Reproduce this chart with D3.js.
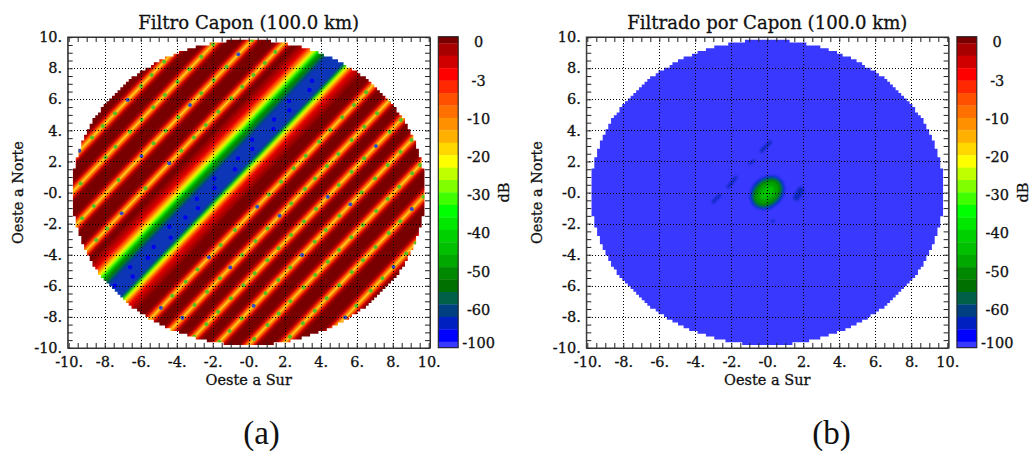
<!DOCTYPE html>
<html><head><meta charset="utf-8">
<script src="https://cdn.jsdelivr.net/npm/d3@7"></script>
<style>
html,body{margin:0;padding:0;background:#fff}
svg{display:block}
text{font-family:"DejaVu Serif",serif;fill:#111;stroke:#111;stroke-width:.3}
text.cap{font-family:"Liberation Serif",serif;stroke:none}
</style></head><body>
<svg id="c" width="1030" height="451"></svg>
<script>
// ---------- data ----------
const titles = ["Filtro Capon (100.0 km)", "Filtrado por Capon (100.0 km)"];
const captions = ["(a)", "(b)"];
const captionX = [261.5, 831.5];
const xName = "Oeste a Sur", yName = "Oeste a Norte", barName = "dB";
const xTicks = [-10,-8,-6,-4,-2,0,2,4,6,8,10];
const xTickLabels = ["-10.","-8.","-6.","-4.","-2.","-0.","2.","4.","6.","8.","10."];
const yTicks = [10,8,6,4,2,0,-2,-4,-6,-8,-10];
const yTickLabels = ["10.","8.","6.","4.","2.","-0.","-2.","-4.","-6.","-8.","-10."];
const minorTicks = d3.range(-10, 10.01, 0.5);
const barLabels = ["0","-3","-10","-20","-30","-40","-50","-60","-100"];
const barColors = ["#780000","#a80000","#d00000","#ff0000","#ff2800","#ff5000","#ff7000","#ff9000","#ffb000","#ffd800","#ffff00","#c0ff00","#80ff00","#40ff00","#00ff00","#00e800","#00d000","#00c000","#00a800","#008800","#007000","#006048","#004080","#0020c0","#0000ff","#3838ff"];
const diskRadius = 9.8;

// narrow stripes: x where each crosses y = 0
const stripeIntercepts = [-11.62,-9.82,-7.89,-5.96,1.22,2.94,4.61,6.27,8.06,9.93,11.97];
const stripeRun = 0.822; // dx per dy
// half widths (x units) of the colour layers of a narrow stripe
const stripeLevels = [[.50,"#980000"],[.42,"#b80000"],[.34,"#d80000"],[.27,"#ff0000"],[.21,"#ff3000"],[.16,"#ff6000"],[.12,"#ff9000"],[.08,"#ffb000"]];
const coreHalf = 0.05, coreColor = "#ffc828";
// notch positions (y) along each stripe
const notches0 = [2.69,3.55,4.28,5.10,5.96,6.86,7.57,8.42];
const notches1 = [0.59,2.27,2.95,3.92,4.71,5.49,6.28,7.13,7.93,8.74,9.54];
const notches2 = [-1.66,-0.87,0.80,2.35,3.17,3.98,4.84,5.63,6.39,7.24,8.10,8.90,9.82];
const notches3 = [-3.06,-2.31,-1.34,0.27,1.88,2.69,3.55,4.35,5.20,6.07,6.81,7.57,8.34,9.05];
const notches4 = [6.45,5.63,4.84,4.02,3.27,2.37,1.56,0.70,-0.12,-0.91,-2.41,-3.38,-4.17,-4.95,-5.74,-6.65,-7.42];
const notches5 = [5.96,5.10,4.24,3.38,2.48,1.71,0.91,0.23,-0.70,-1.49,-2.31,-3.12,-4.02,-4.82,-5.52,-6.39,-7.24,-8.06];
const notches6 = [4.67,3.91,2.99,2.20,1.34,0.48,-0.27,-1.06,-1.87,-2.74,-3.59,-4.35,-5.20,-5.96,-6.81,-7.68,-8.47,-9.29];
const notches7 = [3.38,2.63,1.77,0.91,0.01,-0.76,-1.49,-2.41,-3.17,-4.02,-4.82,-5.63,-6.49,-7.29,-8.10,-8.92,-9.61];
const notches8 = [1.77,1.24,0.37,-0.42,-1.19,-2.09,-2.87,-3.70,-4.46,-5.31,-6.10,-6.99,-7.78,-8.53,-9.43];
const notches9 = [-0.27,-1.06,-1.84,-2.61,-3.51,-4.35,-5.12,-5.96,-6.81,-7.61,-8.42,-9.29];
const notches10 = [-3.27,-3.92,-4.78,-5.52,-6.32,-7.29,-8.04];
const notchLists = [notches0,notches1,notches2,notches3,notches4,notches5,notches6,notches7,notches8,notches9,notches10];
const deepNotches = [[0,2.69],[0,5.96],[2,2.35],[2,5.63],[2,8.90],[3,1.88],[3,-1.34],[4,-0.91],[4,-4.17],[4,-7.42],[5,-1.49],[5,-4.82],[5,-8.06],[6,2.99],[6,-0.27],[7,-0.76],[7,-4.02],[7,-7.29],[9,-1.06],[10,-4.78],[10,-8.04]];

// main null band: x at y = 0 and layer edges (left, right, colour)
const bandIntercept = -2.30;
const bandLevels = [[-2.72,2.19,"#a00000"],[-2.44,1.91,"#c80000"],[-2.22,1.67,"#f00000"],[-2.04,1.48,"#ff4000"],[-1.89,1.35,"#ff9000"],[-1.74,1.24,"#ffd000"],[-1.65,1.19,"#ffff00"],[-1.56,1.09,"#80ff00"],[-1.43,1.02,"#00f000"],[-1.28,.95,"#00b000"],[-1.12,.88,"#008000"],[-.86,.82,"#006048"],[-.74,.78,"#004080"],[-.6,.68,"#0a34b8"]];
const bandSpeckY = [-6,-5.4,-4.8,-4.2,-3.5,-2.9,-2.2,-1.6,-1,-.4,.3,.9,1.5,2.2,2.8,3.4,4.1,4.7,5.3,5.9,6.6,7.2];
const bandSpeckX = [-.2,.3,-.35,.15,-.1,.35,-.3,.1,.3,-.25,.15,-.35,.3,-.1,.2,-.3,.3,-.15,.2,-.3,.25,-.1];

// right panel: central response and side-lobe spots
const lobeLayers = [[.98,.80,"#0828d8"],[.90,.70,"#004890"],[.82,.62,"#007810"],[.68,.48,"#00a000"],[.42,.26,"#00c000"]];
const lobeAngle = -42;
const spotX1 = [-.31,-.96,-2.17,-3,1.63,.3];
const spotY1 = [2.69,1.88,.37,-.59,-.31,-1.84];
const spotX2 = [.15,-.74,-1.74,-2.63,1.86,.32];
const spotY2 = [3.23,2.05,.98,-.16,.16,-1.82];
const spotW = [4,3,3.6,3.6,7,3.5];

// ---------- drawing ----------
const svg = d3.select("#c");
const defs = svg.append("defs");
function addBlur(id, sd){
  defs.append("filter").attr("id",id).attr("filterUnits","userSpaceOnUse").attr("x",0).attr("y",0).attr("width",1030).attr("height",451)
    .append("feGaussianBlur").attr("stdDeviation",sd);
}
addBlur("edge",0.5);
addBlur("soft",0.9);

function panel(ox, idx){
  const x = d3.scaleLinear().domain([-10,10]).range([ox+68.7, ox+428.7]);
  const y = d3.scaleLinear().domain([-10,10]).range([347.9, 37.2]);
  const L = ox+67.7, R = ox+430, T = 37, B = 348;
  const g = svg.append("g");

  // stair-stepped disk as one path
  const rows = d3.range(-diskRadius, diskRadius, 0.18);
  const stepPath = rows.map(d=>{
    const m = d+.09, h = Math.sqrt(Math.max(0,diskRadius*diskRadius-m*m));
    const q = Math.round(h/.155)*.155;
    return `M${x(-q)},${y(d+.18)-.2}H${x(q)}V${y(d)+.2}H${x(-q)}Z`;
  }).join("");
  defs.append("clipPath").attr("id","disk"+idx).append("path").attr("d",stepPath);

  const outer = g.append("g").attr("filter","url(#edge)");
  const clipped = outer.append("g").attr("clip-path",`url(#disk${idx})`);
  const img = clipped.append("g").attr("filter", "url(#soft)");
  const line = d3.line().x(d=>x(d[0])).y(d=>y(d[1]));
  const strip = (c,a,b) => line([[c+a-12*stripeRun,-12],[c+b-12*stripeRun,-12],[c+b+12*stripeRun,12],[c+a+12*stripeRun,12]])+"Z";

  if(idx===0){
    img.append("rect").attr("x",L-10).attr("y",T-10).attr("width",R-L+20).attr("height",B-T+20).attr("fill",barColors[0]);
    stripeLevels.forEach(([w,col])=>{
      img.append("g").selectAll("path").data(stripeIntercepts).join("path")
        .attr("d",c=>strip(c,-w,w)).attr("fill",col);
    });
    bandLevels.forEach(([a,b,col])=>{
      img.append("path").attr("d",strip(bandIntercept,a,b)).attr("fill",col);
    });
    // sharper marks on top
    const sharp = clipped.append("g");
    sharp.append("g").selectAll("path").data(stripeIntercepts).join("path")
      .attr("d",c=>strip(c,-coreHalf,coreHalf)).attr("fill",coreColor);
    notchLists.forEach((list,i)=>{
      sharp.append("g").selectAll("circle").data(list).join("circle")
        .attr("cx",v=>x(stripeIntercepts[i]+v*stripeRun)).attr("cy",v=>y(v)).attr("r",2).attr("fill","#58c020");
    });
    sharp.append("g").selectAll("circle").data(deepNotches).join("circle")
      .attr("cx",d=>x(stripeIntercepts[d[0]]+d[1]*stripeRun)).attr("cy",d=>y(d[1])).attr("r",1.9).attr("fill","#4040c8");
    sharp.append("g").selectAll("circle").data(bandSpeckY).join("circle")
      .attr("cx",(v,i)=>x(bandIntercept+v*stripeRun+bandSpeckX[i])).attr("cy",v=>y(v)).attr("r",2.2).attr("fill","#0000f0");
  } else {
    img.append("rect").attr("x",L-10).attr("y",T-10).attr("width",R-L+20).attr("height",B-T+20).attr("fill",barColors[25]);
    const rx = x(1)-x(0);
    img.append("g").selectAll("path").data(spotX1).join("path")
      .attr("d",(d,i)=>line([[spotX1[i],spotY1[i]],[spotX2[i],spotY2[i]]]))
      .attr("stroke","#0c2cc0").attr("stroke-linecap","round").attr("stroke-width",(d,i)=>spotW[i]).attr("fill","none");
    img.append("g").attr("transform",`translate(${x(0)},${y(0)}) rotate(${lobeAngle})`)
      .selectAll("ellipse").data(lobeLayers).join("ellipse")
      .attr("rx",d=>d[0]*rx*1.1).attr("ry",d=>d[1]*rx*1.1).attr("fill",d=>d[2]);
  }

  // grid
  const grid = g.append("g").attr("stroke","#000").attr("stroke-width",1).attr("stroke-dasharray","1 2").attr("shape-rendering","crispEdges");
  grid.selectAll(".v").data(xTicks.slice(1,-1)).join("line").attr("x1",d=>Math.round(x(d))+.5).attr("x2",d=>Math.round(x(d))+.5).attr("y1",T).attr("y2",B);
  grid.selectAll(".h").data(yTicks.slice(1,-1)).join("line").attr("y1",d=>Math.round(y(d))+.5).attr("y2",d=>Math.round(y(d))+.5).attr("x1",L).attr("x2",R);

  // axes
  const style = s => { s.select(".domain").attr("stroke","#333"); s.selectAll(".tick line").attr("stroke","#222"); };
  const fmtX = (d)=>xTickLabels[xTicks.indexOf(d)];
  const fmtY = (d)=>yTickLabels[yTicks.indexOf(d)];
  const place = (ax,tr)=>g.append("g").attr("transform",tr).call(ax).call(style);
  place(d3.axisBottom(x).tickValues(minorTicks).tickSize(-5).tickSizeOuter(0).tickFormat(""),`translate(0,${B})`);
  place(d3.axisTop(x).tickValues(minorTicks).tickSize(-5).tickSizeOuter(0).tickFormat(""),`translate(0,${T})`);
  place(d3.axisLeft(y).tickValues(minorTicks).tickSize(-5).tickSizeOuter(0).tickFormat(""),`translate(${L},0)`);
  place(d3.axisRight(y).tickValues(minorTicks).tickSize(-5).tickSizeOuter(0).tickFormat(""),`translate(${R},0)`);
  const lab = "14.5px";
  const fix = s => s.selectAll("text").attr("font-size",lab).attr("font-family",'"DejaVu Serif",serif').attr("fill","#111");
  const ax = place(d3.axisBottom(x).tickValues(xTicks).tickSize(0).tickPadding(9).tickFormat(fmtX),`translate(0,${B})`);
  ax.select(".domain").remove(); fix(ax);
  const ay = place(d3.axisLeft(y).tickValues(yTicks).tickSize(0).tickPadding(5.5).tickFormat(fmtY),`translate(${L},0)`);
  ay.select(".domain").remove(); fix(ay);
  // frame
  g.append("rect").attr("x",L).attr("y",T).attr("width",R-L).attr("height",B-T).attr("fill","none").attr("stroke","#333").attr("stroke-width",1);

  // text
  g.append("text").attr("x",x(0)).attr("y",29).attr("text-anchor","middle").attr("font-size","18.1px").attr("stroke-width",.45).text(titles[idx]);
  g.append("text").attr("x",x(0)).attr("y",385).attr("text-anchor","middle").attr("font-size","14.5px").text(xName);
  g.append("text").attr("transform",`translate(${ox+23},${y(0)}) rotate(-90)`).attr("text-anchor","middle").attr("font-size","14.5px").text(yName);
  g.append("text").attr("class","cap").attr("x",captionX[idx]).attr("y",444).attr("text-anchor","middle").attr("font-size","33px").text(captions[idx]);

  // colour bar
  const bx0 = ox+438.3, bx1 = ox+458.2;
  const idxY = d3.scaleLinear().domain([.5,24.5]).range([43.3,341.7]);
  const top = i => i===0 ? 36.7 : idxY(i-.5);
  const bot = i => i===barColors.length-1 ? 347.7 : idxY(i+.5);
  g.append("g").selectAll("rect").data(barColors).join("rect")
    .attr("x",bx0).attr("width",bx1-bx0).attr("y",(d,i)=>top(i)).attr("height",(d,i)=>bot(i)-top(i)+.3).attr("fill",d=>d);
  g.append("rect").attr("x",bx0).attr("y",36.7).attr("width",bx1-bx0).attr("height",311).attr("fill","none").attr("stroke","#222").attr("stroke-width",1.1);
  const dbY = d3.scalePoint().domain(barLabels.slice(0,8)).range([42,309.5]);
  g.append("g").selectAll("text").data(barLabels).join("text")
    .attr("x",ox+478.6).attr("y",d=>(d==="-100"?342.8:dbY(d))+5.3).attr("text-anchor","middle").attr("font-size","14.5px").text(d=>d);
  g.append("text").attr("transform",`translate(${ox+509},${y(0)}) rotate(-90)`).attr("text-anchor","middle").attr("font-size","14.5px").text(barName);
}
panel(0,0);
panel(518.6,1);
</script>
</body></html>
